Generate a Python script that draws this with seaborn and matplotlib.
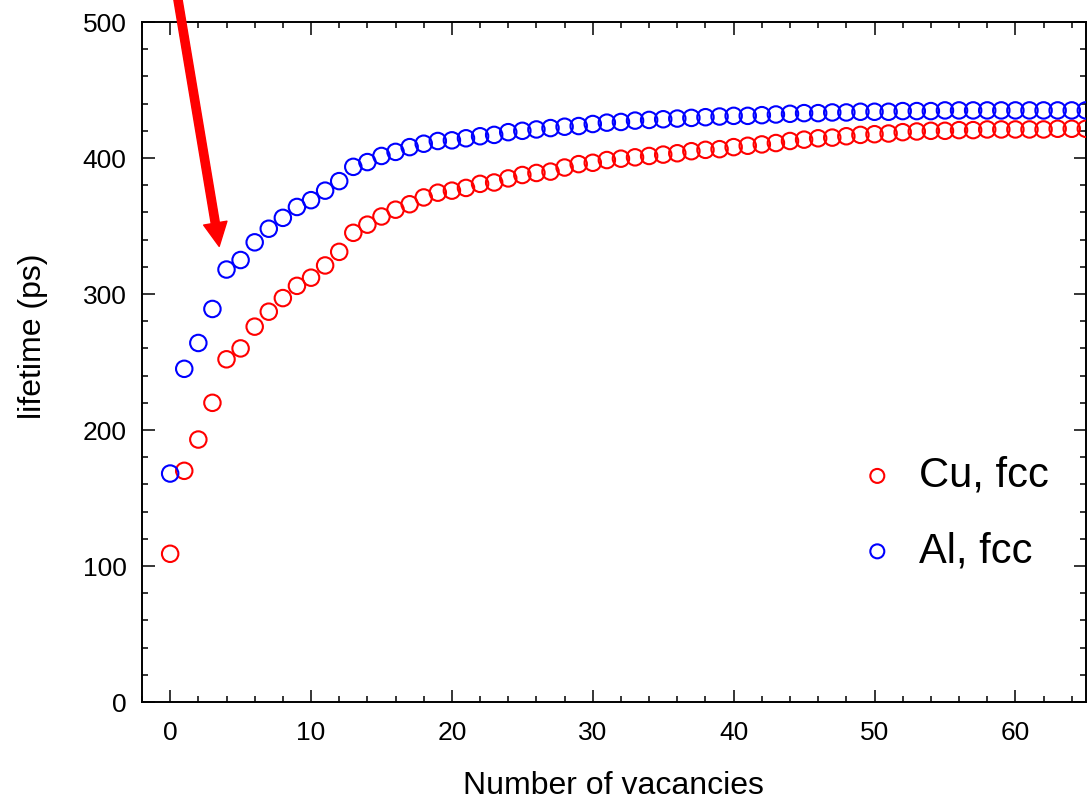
import numpy as np
import pandas as pd
import matplotlib
matplotlib.use("Agg")
import matplotlib.pyplot as plt
import seaborn as sns
from matplotlib.ticker import MultipleLocator

# Positron lifetime vs number of vacancies
vacancies = list(range(0, 66))

cu_lifetime = [109, 170, 193, 220, 252, 260, 276, 287, 297, 306,
               312, 321, 331, 345, 351, 357, 362, 366, 371, 374.5,
               376, 378, 381, 382, 385, 387.5, 389, 390, 393, 395.5,
               396.5, 398.5, 399.5, 400.5, 401.5, 402.5, 403.5, 405, 406, 406.5,
               408, 409, 410, 411, 412.5, 413.5, 414.5, 415, 416, 417,
               417.5, 418, 419, 419.5, 420, 420, 420.5, 420.5, 421, 421,
               421, 421, 421, 421.5, 421.5, 421.5]

al_lifetime = [168, 245, 264, 289, 318, 325, 338, 348, 356, 364,
               369, 376, 383, 393.5, 397, 401.5, 404.5, 408, 410.5, 412.5,
               413, 414.5, 416, 417, 419, 420, 421, 422, 423, 423.5,
               425, 426, 426.5, 427.5, 428, 428.5, 429, 429.5, 430, 430.5,
               431, 431, 431.5, 432, 432.5, 433, 433, 433.5, 433.5, 434,
               434, 434, 434.5, 434.5, 434.5, 435, 435, 435, 435, 435,
               435, 435, 435, 435, 435, 435]

series_names = ['Cu, fcc', 'Al, fcc']
series_colors = ['red', 'blue']

df = pd.concat([
    pd.DataFrame({'vacancies': vacancies, 'lifetime': cu_lifetime, 'metal': series_names[0]}),
    pd.DataFrame({'vacancies': vacancies, 'lifetime': al_lifetime, 'metal': series_names[1]}),
])

sns.set_style('ticks')
plt.rcParams['font.family'] = ['Liberation Sans', 'DejaVu Sans']
plt.rcParams['text.color'] = 'black'
plt.rcParams['axes.labelcolor'] = 'black'

fig = plt.figure(figsize=(10.88, 8.06), dpi=100)
ax = fig.add_axes([0.1305, 0.129, 0.8675, 0.8437])

for name, col in zip(series_names, series_colors):
    sub = df[df['metal'] == name]
    sns.scatterplot(data=sub, x='vacancies', y='lifetime', ax=ax, marker='o',
                    s=140, facecolor='none', edgecolor=col, linewidth=1.5,
                    label=name, zorder=3)

ax.set_xlim(-2, 65)
ax.set_ylim(0, 500)
ax.xaxis.set_major_locator(MultipleLocator(10))
ax.xaxis.set_minor_locator(MultipleLocator(2))
ax.yaxis.set_major_locator(MultipleLocator(100))
ax.yaxis.set_minor_locator(MultipleLocator(20))
ax.tick_params(which='both', direction='in', top=True, right=True,
               width=1.1, colors='black', labelsize=19)
ax.tick_params(axis='x', which='both', pad=14)
ax.tick_params(axis='y', which='both', pad=11)
ax.tick_params(which='major', length=9)
ax.tick_params(which='minor', length=4.5)
for sp in ax.spines.values():
    sp.set_linewidth(1.4)
    sp.set_color('black')

ax.set_xlabel('Number of vacancies', fontsize=23)
ax.set_ylabel('lifetime (ps)', fontsize=23)
ax.xaxis.set_label_coords(0.5, -0.101)
ax.yaxis.set_label_coords(-0.10, 0.538)

leg = ax.legend(loc='upper left', bbox_to_anchor=(0.757, 0.362), frameon=False,
                fontsize=30, handlelength=1.0, handletextpad=0.5,
                labelspacing=0.85, borderpad=0, borderaxespad=0, markerscale=0.85)
for t in leg.get_texts():
    t.set_color('black')

# red arrow pointing at the kink near 4 vacancies
ax.annotate('', xy=(3.48, 335), xytext=(0.32, 531), xycoords='data',
            annotation_clip=False,
            arrowprops=dict(color='red', width=5.9, headwidth=17,
                            headlength=17, shrink=0))

fig.savefig('out.png', dpi=100)
